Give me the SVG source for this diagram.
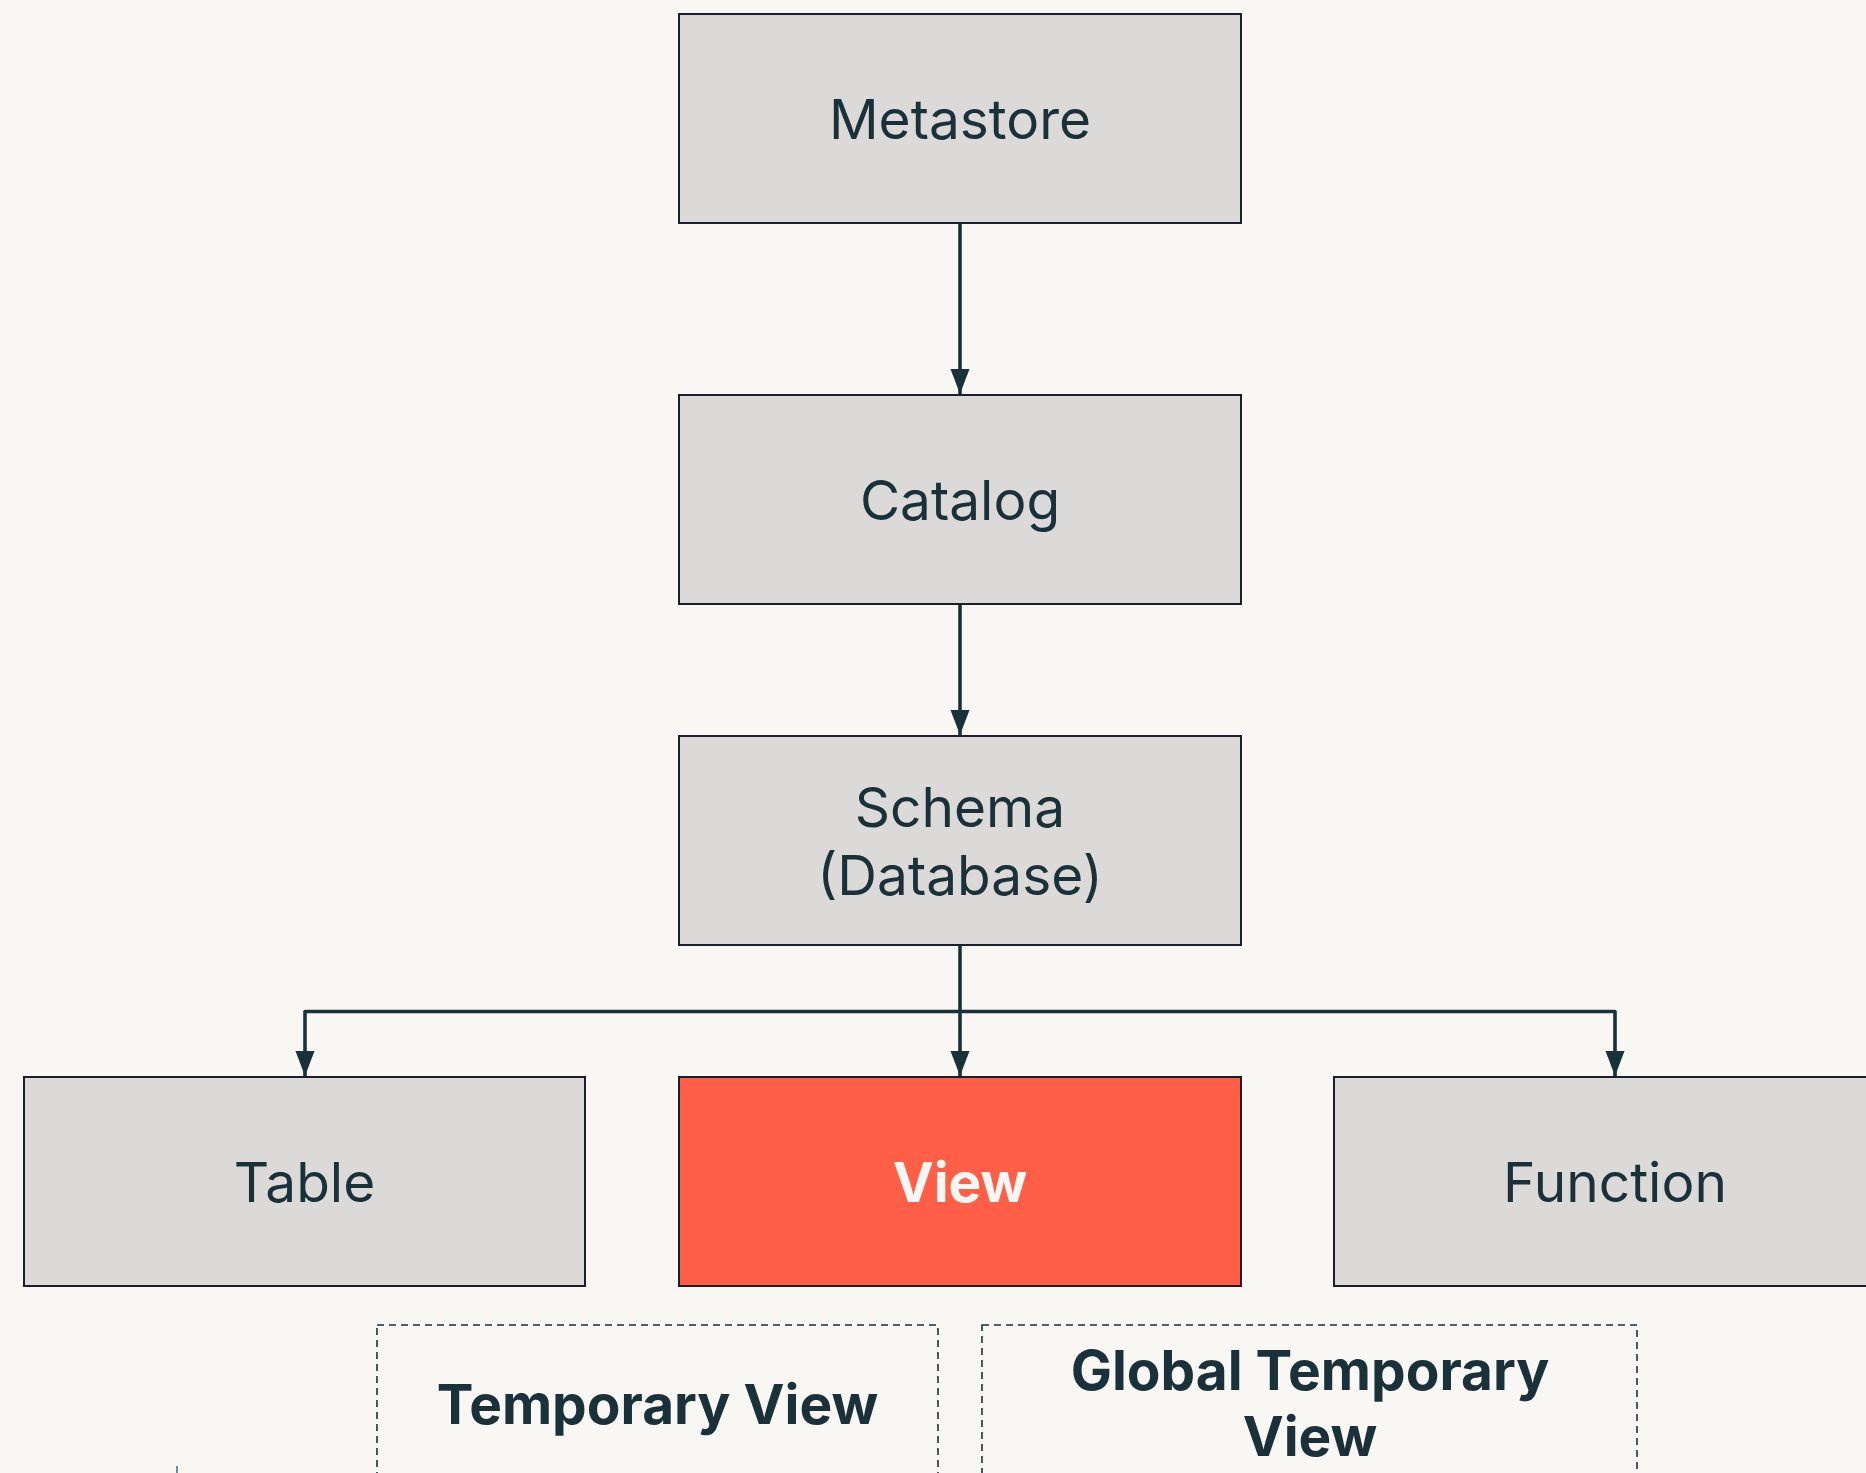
<svg xmlns="http://www.w3.org/2000/svg" width="1866" height="1473" viewBox="0 0 1866 1473">
  <defs>
    <style>
      .box { fill: #DCDAD8; stroke: #1B1F2A; stroke-width: 2; }
      .hot { fill: #FF5F46; stroke: #1B1F2A; stroke-width: 2; }
      .scope { fill: none; stroke: #1B3139; stroke-width: 1.6; stroke-dasharray: 7 5; }
      .label { font-family: Inter, "Open Sans", "Liberation Sans", sans-serif; font-size: 55px; fill: #1B3139; text-anchor: middle; }
      .label-hot { font-family: Inter, "Open Sans", "Liberation Sans", sans-serif; font-size: 55px; font-weight: 700; fill: #F9F7F4; text-anchor: middle; }
      .label-bold { font-family: Inter, "Open Sans", "Liberation Sans", sans-serif; font-size: 55px; font-weight: 700; fill: #1B3139; text-anchor: middle; }
      .edge { fill: none; stroke: #1B3139; stroke-width: 3.6; stroke-linejoin: round; }
    </style>
    <marker id="arrow" markerUnits="userSpaceOnUse" markerWidth="25" markerHeight="20" viewBox="0 0 25 20" refX="25" refY="10" orient="auto">
      <path d="M0,0.5 L25,10 L0,19.5 z" fill="#1B3139"/>
    </marker>
  </defs>

  <rect width="1866" height="1473" fill="#F8F7F4"/>

  <!-- connectors -->
  <g id="connectors">
    <path class="edge" d="M960,224 L960,394" marker-end="url(#arrow)"/>
    <path class="edge" d="M960,605 L960,735" marker-end="url(#arrow)"/>
    <path class="edge" d="M960,946 L960,1076" marker-end="url(#arrow)"/>
    <path class="edge" d="M960,1011.5 L305,1011.5 L305,1076" marker-end="url(#arrow)"/>
    <path class="edge" d="M960,1011.5 L1615,1011.5 L1615,1076" marker-end="url(#arrow)"/>
  </g>

  <g id="metastore">
    <rect class="box" x="679" y="14" width="562" height="209"/>
    <text class="label" x="960" y="139">Metastore</text>
  </g>

  <g id="catalog">
    <rect class="box" x="679" y="395" width="562" height="209"/>
    <text class="label" x="960" y="520">Catalog</text>
  </g>

  <g id="schema">
    <rect class="box" x="679" y="736" width="562" height="209"/>
    <text class="label" x="960" y="827">Schema</text>
    <text class="label" x="960" y="895">(Database)</text>
  </g>

  <g id="table">
    <rect class="box" x="24" y="1077" width="561" height="209"/>
    <text class="label" x="304.5" y="1202">Table</text>
  </g>

  <g id="view">
    <rect class="hot" x="679" y="1077" width="562" height="209"/>
    <text class="label-hot" x="960" y="1202">View</text>
  </g>

  <g id="function">
    <rect class="box" x="1334" y="1077" width="562" height="209"/>
    <text class="label" x="1615" y="1202">Function</text>
  </g>

  <g id="temporary-view">
    <rect class="scope" x="377" y="1325" width="561" height="200"/>
    <text class="label-bold" x="657.5" y="1424">Temporary View</text>
  </g>

  <g id="global-temporary-view">
    <rect class="scope" x="982" y="1325" width="655" height="200"/>
    <text class="label-bold" x="1310" y="1390">Global Temporary</text>
    <text class="label-bold" x="1310" y="1456">View</text>
  </g>

  <!-- stub of a shape cut off at the lower edge -->
  <line x1="177" y1="1466" x2="177" y2="1473" stroke="#4A6A7A" stroke-width="1.5"/>
</svg>
